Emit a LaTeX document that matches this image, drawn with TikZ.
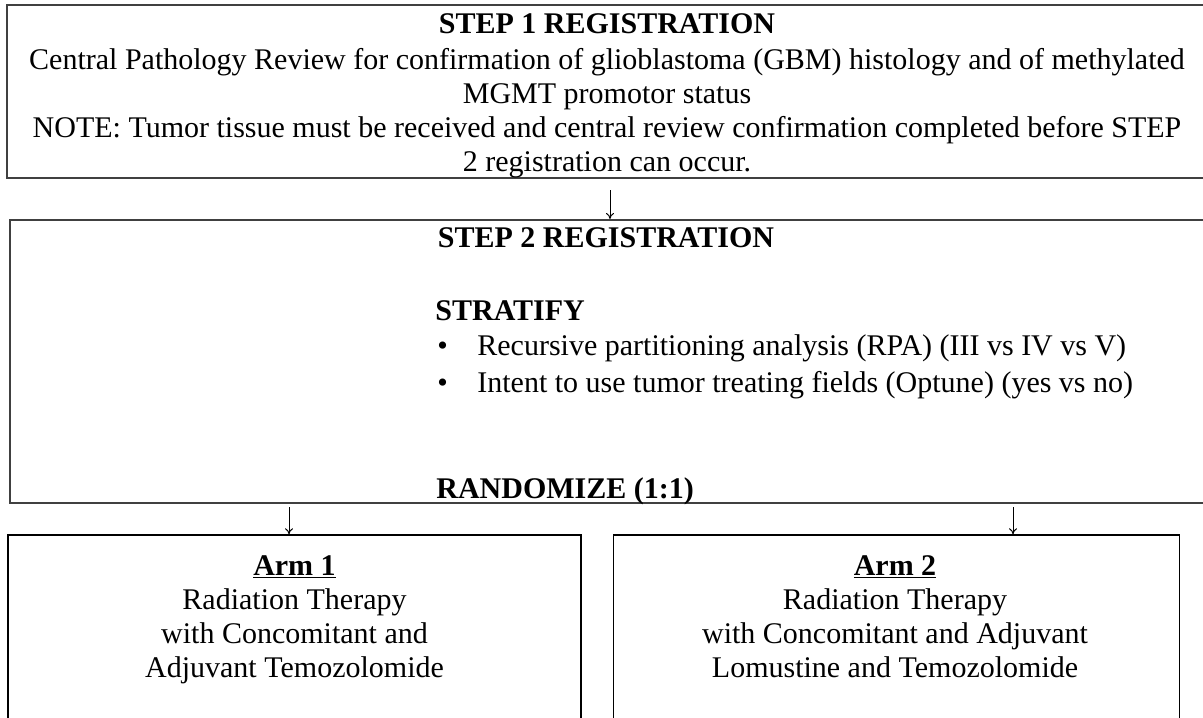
\documentclass[tikz,border=0pt]{standalone}
\usepackage{fontspec}
\setmainfont{Liberation Serif}
\usetikzlibrary{positioning,arrows.meta}

\begin{document}
\begin{tikzpicture}[x=0.5pt,y=-0.5pt,
	bigbox/.style={draw=black!75,line width=1pt,inner sep=0pt},
	armbox/.style={draw=black,line width=0.7pt,inner sep=0pt,minimum height=121.5pt},
	txt/.style={inner sep=0pt,font=\fontsize{15}{17}\selectfont},
	arr/.style={-{To[length=3pt,width=4pt]},line width=0.5pt}]
	\clip (0,0) rectangle (1203,717);

	% boxes
	\node[bigbox,minimum width=600pt,minimum height=86.5pt]		(stepone)	at (607,91.5)	{};
	\node[bigbox,minimum width=597.75pt,minimum height=141.5pt]	(steptwo)	at (607.25,361.5)	{};
	\node[armbox,minimum width=286.5pt]							(armone)	at (294.5,656.5)	{};
	\node[armbox,minimum width=283pt,right=15.5pt of armone]	(armtwo)	{};

	% step 1 (anchored at the last line)
	\node[txt,align=center,anchor=base] (onetext) at (607,171) {\textbf{STEP 1 REGISTRATION}\\[1pt]
		Central Pathology Review for confirmation of glioblastoma (GBM) histology and of methylated\\
		MGMT promotor status\\
		NOTE: Tumor tissue must be received and central review confirmation completed before STEP\\
		2 registration can occur.};

	% step 2
	\node[txt,anchor=base]			(twohead)	at (606,247)	{\textbf{STEP 2 REGISTRATION}};
	\node[txt,anchor=base west]		(strat)		at (435,320)	{\textbf{STRATIFY}};
	\node[txt,anchor=base west]		(bulone)	at (437,355)	{\textbullet};
	\node[txt,anchor=base west]		(rpa)		at (477,355)	{Recursive partitioning analysis (RPA) (III vs IV vs V)};
	\node[txt,anchor=base west]		(bultwo)	at (437,392)	{\textbullet};
	\node[txt,anchor=base west]		(optune)	at (477,392)	{Intent to use tumor treating fields (Optune) (yes vs no)};
	\node[txt,anchor=base west]		(rand)		at (436,498)	{\textbf{RANDOMIZE (1:1)}};

	% arms (anchored at the last line)
	\node[txt,align=center,anchor=base] (armonetext) at (294.5,677) {\textbf{\underline{Arm 1}}\\
		Radiation Therapy\\
		with Concomitant and\\
		Adjuvant Temozolomide};
	\node[txt,align=center,anchor=base] (armtwotext) at (895,677) {\textbf{\underline{Arm 2}}\\
		Radiation Therapy\\
		with Concomitant and Adjuvant\\
		Lomustine and Temozolomide};

	% arrows
	\coordinate (aone) at (610,190);
	\coordinate (rone) at (289,507);
	\coordinate (rtwo) at (1013,507);
	\draw[arr] (aone) -- (aone |- steptwo.north);
	\draw[arr] (rone) -- (rone |- armone.north);
	\draw[arr] (rtwo) -- (rtwo |- armtwo.north);
\end{tikzpicture}
\end{document}
